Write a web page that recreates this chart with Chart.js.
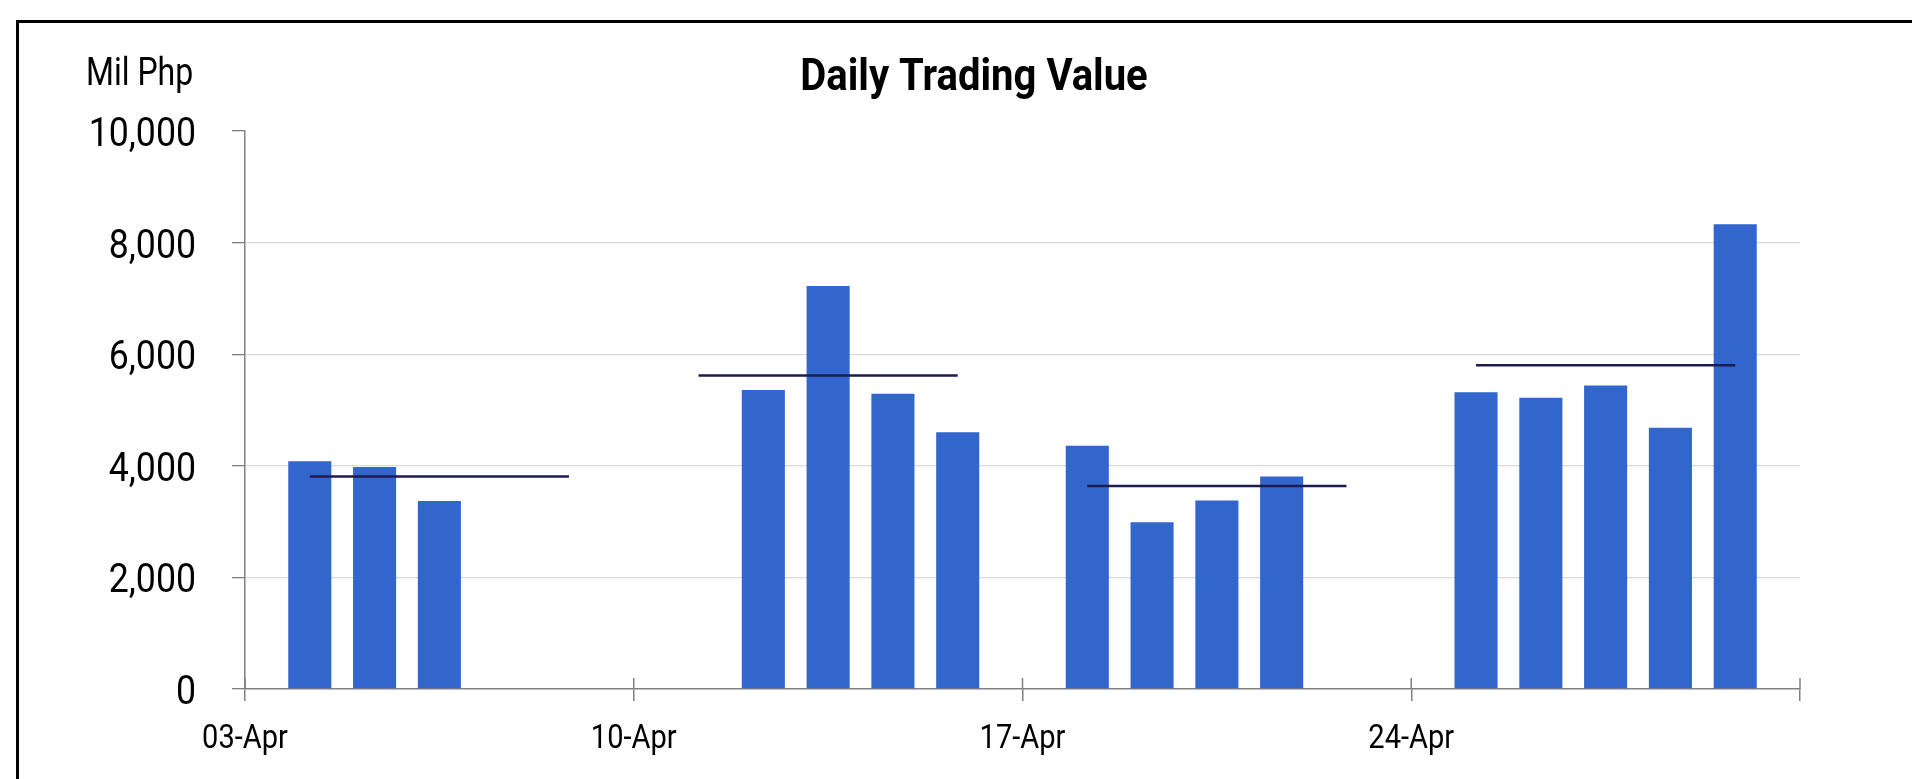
<!DOCTYPE html>
<html>
<head>
<meta charset="utf-8">
<script src="https://cdn.jsdelivr.net/npm/chart.js@4/dist/chart.umd.min.js"></script>
<style>
  body { margin: 0; overflow: hidden; background: #fff; }
  #frame { position: absolute; left: 16px; top: 20px; width: 2000px; height: 900px;
    border-left: 3px solid #000; border-top: 3px solid #000; }
  canvas { position: absolute; left: 0; top: 0; }
</style>
</head>
<body>
<div id="frame"></div>
<canvas id="trading-chart" width="1912" height="779"></canvas>
<script>
// Trading days in April (day of month) and daily value, Mil Php
var days = [3, 4, 5, 11, 12, 13, 14, 17, 18, 19, 20, 24, 25, 26, 27, 28];
var tradingValue = [4080, 3980, 3370, 5360, 7220, 5290, 4600, 4360, 2990, 3380, 3810, 5320, 5220, 5440, 4680, 8330];
// Week start labels and weekly average lines
var weekLabels = ['03-Apr', '10-Apr', '17-Apr', '24-Apr'];
var weekAverage = [3810, 5620, 3640, 5800];

var FONT = 'Roboto, "Liberation Sans", sans-serif';
var axisGray = '#808080';

// 6 slots per week: a gap slot (carries the week label) then Mon..Fri
var slotCount = weekLabels.length * 6 + 1;
var slotLabels = [];
var barData = [];
var avgData = [];
for (var k = 0; k < slotCount; k++) {
  slotLabels.push(k % 6 === 0 ? (weekLabels[k / 6] || '') : '');
  barData.push(null);
  avgData.push(k % 6 === 0 ? null : weekAverage[Math.floor(k / 6)]);
}
days.forEach(function(d, i) {
  var slot = Math.floor((d - 3) / 7) * 6 + (d - 3) % 7 + 1;
  barData[slot] = tradingValue[i];
});

// no narrow font installed, so squeeze the text horizontally
function narrowText(ctx, text, x, y, align, font, sx) {
  ctx.save();
  ctx.translate(x, y);
  ctx.scale(sx, 1);
  ctx.font = font;
  ctx.textAlign = align;
  ctx.textBaseline = 'alphabetic';
  ctx.fillStyle = '#000';
  ctx.fillText(text, 0, 0);
  ctx.restore();
}

// title, unit, tick labels and the short tick marks above the x axis
var decorations = {
  id: 'decorations',
  afterDraw: function(chart) {
    var ctx = chart.ctx;
    var x = chart.scales.x;
    var y = chart.scales.y;
    var bottom = chart.chartArea.bottom;
    ctx.save();
    ctx.strokeStyle = axisGray;
    ctx.lineWidth = 1.5;
    for (var k = 0; k < slotCount; k += 6) {
      var px = x.getPixelForValue(k);
      ctx.beginPath();
      ctx.moveTo(px, bottom);
      ctx.lineTo(px, bottom - 11);
      ctx.stroke();
    }
    ctx.restore();

    narrowText(ctx, 'Daily Trading Value', 974, 90, 'center', 'bold 45px ' + FONT, 0.89);
    narrowText(ctx, 'Mil Php', 86, 85, 'left', '39px ' + FONT, 0.82);

    y.ticks.forEach(function(t, i) {
      narrowText(ctx, t.label, 196, y.getPixelForTick(i) + 15, 'right', '41px ' + FONT, 0.87);
    });
    x.ticks.forEach(function(t, i) {
      if (!t.label) return;
      narrowText(ctx, t.label, x.getPixelForTick(i), 748, 'center', '33px ' + FONT, 0.88);
    });
  }
};

var ctx = document.getElementById('trading-chart').getContext('2d');
var chart = new Chart(ctx, {
  type: 'bar',
  data: {
    labels: slotLabels,
    datasets: [{
      type: 'line',
      label: 'Weekly average',
      data: avgData,
      borderColor: '#1c1c50',
      borderWidth: 2.5,
      pointRadius: 0,
      spanGaps: false,
      order: 0
    }, {
      label: 'Daily trading value',
      data: barData,
      backgroundColor: '#3366cc',
      categoryPercentage: 1,
      barPercentage: 0.665,
      order: 1
    }]
  },
  options: {
    responsive: false,
    animation: false,
    events: [],
    layout: { padding: { left: 0, top: 131, right: 112, bottom: 0 } },
    plugins: {
      legend: { display: false },
      tooltip: { enabled: false }
    },
    scales: {
      x: {
        offset: false,
        afterFit: function(scale) { scale.height = 90; },
        grid: {
          offset: false,
          drawOnChartArea: false,
          tickLength: 12,
          lineWidth: 1.5,
          tickColor: function(c) { return c.index % 6 === 0 ? axisGray : 'rgba(0,0,0,0)'; }
        },
        border: { color: axisGray, width: 1.5 },
        ticks: {
          autoSkip: false,
          maxRotation: 0,
          color: 'rgba(0,0,0,0)',
          font: { family: FONT, size: 33 }
        }
      },
      y: {
        min: 0,
        max: 10000,
        afterFit: function(scale) { scale.width = 245; },
        grid: {
          tickLength: 13,
          lineWidth: 1.3,
          color: function(c) {
            var v = c.tick.value;
            return (v === 0 || v === 10000) ? 'rgba(0,0,0,0)' : '#d9d9d9';
          },
          tickColor: axisGray
        },
        border: { color: axisGray, width: 1.5 },
        ticks: {
          stepSize: 2000,
          color: 'rgba(0,0,0,0)',
          font: { family: FONT, size: 40 },
          callback: function(v) { return v.toLocaleString('en-US'); }
        }
      }
    }
  },
  plugins: [decorations]
});
</script>
</body>
</html>
